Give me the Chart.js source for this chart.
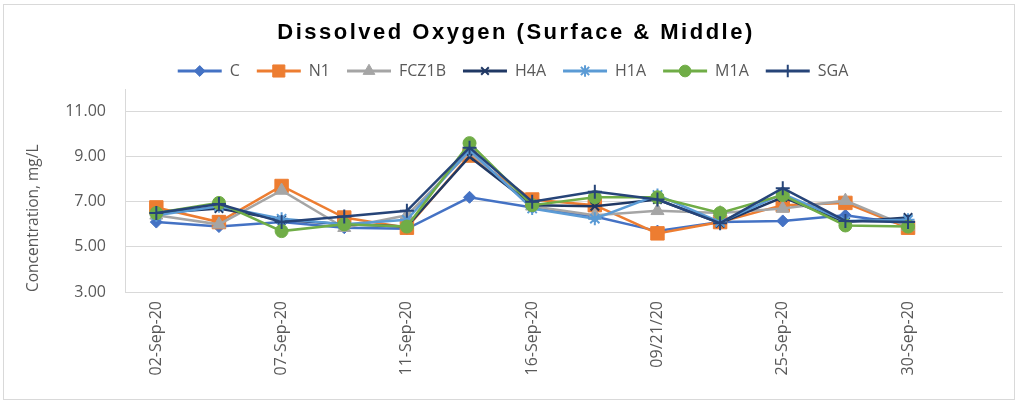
<!DOCTYPE html>
<html><head><meta charset="utf-8">
<script src="https://cdn.jsdelivr.net/npm/chart.js@4.4.0/dist/chart.umd.min.js"></script>
<style>html,body{margin:0;padding:0;background:#fff;}canvas{display:block;}</style>
</head><body>
<canvas id="c" width="1020" height="403"></canvas>
<script>
// ---- data ----
const categories = ['02-Sep-20','','07-Sep-20','','11-Sep-20','','16-Sep-20','','09/21/20','','25-Sep-20','','30-Sep-20',''];
const seriesNames = ['C','N1','FCZ1B','H4A','H1A','M1A','SGA'];
const valuesC     = [6.10, 5.90, 6.10, 5.85, 5.80, 7.20, 6.75, 6.35, 5.70, 6.10, 6.15, 6.40, 6.00];
const valuesN1    = [6.75, 6.10, 7.70, 6.30, 5.85, 9.05, 7.10, 6.85, 5.60, 6.10, 6.85, 6.95, 5.85];
const valuesFCZ1B = [6.40, 6.00, 7.50, 5.85, 6.40, 9.20, 6.80, 6.40, 6.60, 6.50, 6.70, 7.05, 5.90];
const valuesH4A   = [6.50, 6.70, 6.20, 6.00, 5.90, 9.00, 6.85, 6.80, 7.10, 6.05, 7.20, 6.10, 6.30];
const valuesH1A   = [6.40, 6.80, 6.25, 6.00, 6.20, 9.30, 6.70, 6.25, 7.30, 6.10, 7.35, 6.15, 6.20];
const valuesM1A   = [6.50, 6.95, 5.70, 6.00, 5.90, 9.60, 6.85, 7.20, 7.20, 6.50, 7.30, 5.95, 5.90];
const valuesSGA   = [6.50, 6.90, 6.10, 6.35, 6.60, 9.40, 7.00, 7.45, 7.10, 6.05, 7.60, 6.15, 6.10];
const yTickValues = [3, 5, 7, 9, 11];
const titleText = 'Dissolved Oxygen (Surface & Middle)';
const yTitleText = 'Concentration, mg/L';

// ---- styles ----
const seriesValues = [valuesC, valuesN1, valuesFCZ1B, valuesH4A, valuesH1A, valuesM1A, valuesSGA];
const colors = ['#4472C4','#ED7D31','#A5A5A5','#203864','#5B9BD5','#70AD47','#264478'];
const pointStyles = ['rectRot','rect','triangle','crossRot','star','circle','cross'];
const pointRadii = [6, 9.5, 7.5, 6, 6.5, 6.5, 7];
const FONT = '"Open Sans", "Noto Sans", sans-serif';
const TXT = '#595959';
const GRID = '#D9D9D9';

const datasets = seriesNames.map((name, i) => ({
  label: name,
  data: seriesValues[i],
  borderColor: colors[i],
  backgroundColor: colors[i],
  borderWidth: 2.5,
  pointStyle: pointStyles[i],
  pointRadius: pointRadii[i],
  pointBorderWidth: (pointStyles[i]==='cross'||pointStyles[i]==='crossRot'||pointStyles[i]==='star') ? 2 : 1,
  pointBackgroundColor: colors[i],
  pointBorderColor: colors[i],
  tension: 0,
  order: seriesNames.length - i
}));

const framePlugin = {
  id: 'frame',
  beforeDraw(chart) {
    const ctx = chart.ctx;
    ctx.save();
    ctx.fillStyle = '#fff';
    ctx.fillRect(0, 0, chart.width, chart.height);
    ctx.strokeStyle = GRID;
    ctx.lineWidth = 1;
    ctx.strokeRect(3.5, 4.5, 1011, 395);
    ctx.restore();
  },
  afterDraw(chart) {
    const ctx = chart.ctx;
    ctx.save();
    ctx.font = 'bold 22px "Liberation Sans", Arial, sans-serif';
    try { ctx.letterSpacing = '2.5px'; } catch (e) {}
    ctx.fillStyle = '#000';
    ctx.textAlign = 'center';
    ctx.textBaseline = 'middle';
    ctx.fillText(titleText, 516, 33);
    ctx.restore();
    // legend markers
    const lg = chart.legend;
    if (lg && lg.legendHitBoxes) {
      lg.legendHitBoxes.forEach((hb, i) => {
        const ds = chart.data.datasets[i];
        ctx.save();
        ctx.fillStyle = ds.pointBackgroundColor;
        ctx.strokeStyle = ds.pointBorderColor;
        ctx.lineWidth = ds.pointBorderWidth;
        Chart.helpers.drawPoint(ctx, {pointStyle: ds.pointStyle, radius: ds.pointRadius * 0.9, rotation: 0, borderWidth: ds.pointBorderWidth}, hb.left + 22, hb.top + 8);
        ctx.restore();
      });
    }
  }
};

new Chart(document.getElementById('c'), {
  type: 'line',
  data: { labels: categories, datasets },
  options: {
    responsive: false,
    devicePixelRatio: 1,
    animation: false,
    layout: { padding: { top: 46, left: 24, right: 18, bottom: 0 } },
    plugins: {
      title: { display: false },
      tooltip: { enabled: false },
      legend: {
        display: true,
        position: 'top',
        labels: {
          boxWidth: 44,
          boxHeight: 3,
          padding: 17,
          color: TXT,
          font: { family: FONT, size: 16 },
          generateLabels(chart) {
            return chart.data.datasets.map((ds, i) => ({
              text: ds.label, fillStyle: ds.borderColor, strokeStyle: ds.borderColor,
              lineWidth: 0, hidden: false, datasetIndex: i, fontColor: TXT
            }));
          }
        }
      }
    },
    scales: {
      x: {
        type: 'category',
        offset: true,
        grid: { display: false, drawTicks: false },
        border: { display: true, color: GRID, width: 1 },
        ticks: {
          autoSkip: false, minRotation: 90, maxRotation: 90, padding: 9,
          color: TXT, font: { family: FONT, size: 16 },
          callback: (v, i) => categories[i]
        },
        afterFit(s) { s.height = 111; }
      },
      y: {
        min: 3, max: 12,
        grid: { color: GRID, drawTicks: false, lineWidth: 1 },
        border: { display: true, color: GRID, width: 1 },
        afterBuildTicks(s) { s.ticks = yTickValues.map(v => ({ value: v })); },
        ticks: {
          padding: 19, color: TXT, font: { family: FONT, size: 16 },
          callback: v => Number(v).toFixed(2)
        },
        title: {
          display: true, text: yTitleText, color: TXT,
          font: { family: FONT, size: 15.5 }, padding: { top: 0, bottom: 0 }, align: 'start'
        },
        afterFit(s) { s.width = 101; }
      }
    }
  },
  plugins: [framePlugin]
});
</script>
</body></html>
